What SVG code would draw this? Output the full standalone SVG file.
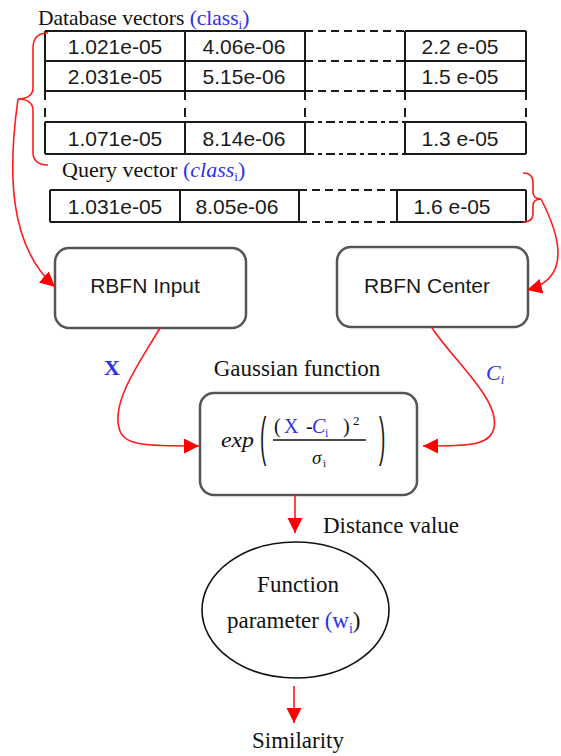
<svg xmlns="http://www.w3.org/2000/svg" width="561" height="756" viewBox="0 0 561 756">
  <defs>
    <style>
      .sans { font-family: "Liberation Sans", Arial, sans-serif; fill: #1a1a1a; }
      .serif { font-family: "Liberation Serif", "Times New Roman", serif; fill: #111; }
      .blue { fill: #3030e8; }
      .grid { stroke: #1a1a1a; stroke-width: 2; fill: none; }
      .dash { stroke: #1a1a1a; stroke-width: 2; stroke-dasharray: 8 5; fill: none; }
      .dashdot { stroke: #1a1a1a; stroke-width: 2; stroke-dasharray: 9 4 4 4; fill: none; }
      .box { fill: #fff; stroke: #555; stroke-width: 2.5; }
      .red { stroke: #ff1a1a; stroke-width: 1.6; fill: none; }
    </style>
    <marker id="arrow" markerUnits="userSpaceOnUse" markerWidth="16" markerHeight="16" refX="15" refY="7.5" orient="auto">
      <path d="M0,0 L15,7.5 L0,15 z" fill="#ff0000"/>
    </marker>
  </defs>
  <rect width="561" height="756" fill="#fff"/>

  <!-- database vectors table -->
  <g id="database-vectors">
    <text class="serif" x="38" y="25" font-size="21.5">Database vectors <tspan class="blue">(class<tspan font-size="13" dy="4">i</tspan><tspan dy="-4">)</tspan></tspan></text>
    <path class="grid" d="M45,31 H305 M405,31 H526 M45,61 H305 M405,61 H526 M45,91 H305 M405,91 H526 M45,122 H305 M405,122 H526 M45,154 H305 M405,154 H526"/>
    <path class="dash" d="M305,31 H405 M305,61 H405 M305,91 H405"/>
    <path class="dashdot" d="M305,122 H405 M305,154 H405"/>
    <path class="grid" d="M45,31 V100 M185,31 V100 M305,31 V100 M405,31 V100 M526,31 V100 M45,108 V117 M185,108 V117 M305,108 V117 M405,108 V117 M526,108 V117 M45,122 V154 M185,122 V154 M305,122 V154 M405,122 V154 M526,122 V154"/>
    <g class="sans" font-size="21" text-anchor="middle">
      <text x="115" y="54">1.021e-05</text>
      <text x="244" y="54">4.06e-06</text>
      <text x="460" y="54">2.2 e-05</text>
      <text x="115" y="84">2.031e-05</text>
      <text x="244" y="84">5.15e-06</text>
      <text x="460" y="84">1.5 e-05</text>
      <text x="115" y="146">1.071e-05</text>
      <text x="244" y="146">8.14e-06</text>
      <text x="460" y="146">1.3 e-05</text>
    </g>
  </g>

  <!-- query vector table -->
  <g id="query-vector">
    <text class="serif" x="62" y="177" font-size="22">Query vector <tspan class="blue">(<tspan font-style="italic">class</tspan><tspan font-size="13" dy="4">i</tspan><tspan dy="-4">)</tspan></tspan></text>
    <path class="grid" d="M50,190 H299 M397,190 H526 M50,222 H299 M397,222 H526 M50,190 V222 M180,190 V222 M299,190 V222 M397,190 V222 M526,190 V222"/>
    <path class="dash" d="M299,190 H397 M299,222 H397"/>
    <g class="sans" font-size="21" text-anchor="middle">
      <text x="115" y="214">1.031e-05</text>
      <text x="237" y="214">8.05e-06</text>
      <text x="452" y="214">1.6 e-05</text>
    </g>
  </g>

  <!-- RBFN input node -->
  <g id="rbfn-input">
    <rect class="box" x="55" y="248" width="191" height="80" rx="14"/>
    <text class="sans" font-size="21" x="145" y="293" text-anchor="middle">RBFN Input</text>
  </g>

  <!-- RBFN center node -->
  <g id="rbfn-center">
    <rect class="box" x="337" y="247" width="191" height="80" rx="14"/>
    <text class="sans" font-size="21" x="427" y="293" text-anchor="middle">RBFN Center</text>
  </g>

  <!-- Gaussian kernel node -->
  <g id="gaussian">
    <text class="serif" font-size="23" x="297" y="376" text-anchor="middle">Gaussian function</text>
    <rect class="box" x="200" y="393" width="217" height="102" rx="14"/>
    <text class="serif" x="221" y="447" font-size="21" font-style="italic" textLength="33" lengthAdjust="spacingAndGlyphs">exp</text>
    <text class="sans" transform="translate(260,455) scale(0.5,1.4)" font-size="38" fill="#222">(</text>
    <text class="sans" transform="translate(379,455) scale(0.5,1.4)" font-size="38" fill="#222">)</text>
    <text class="serif" y="433" font-size="20">
      <tspan x="274">(</tspan><tspan x="284" class="blue">X</tspan><tspan x="306">-</tspan><tspan x="312" class="blue" font-style="italic">C</tspan><tspan x="325" dy="4" font-size="12" class="blue">i</tspan><tspan x="343" dy="-4">)</tspan><tspan x="353" dy="-8" font-size="13">2</tspan>
    </text>
    <line x1="273" y1="440" x2="366" y2="440" stroke="#111" stroke-width="1.6"/>
    <text class="serif" y="464" font-size="19" font-style="italic"><tspan x="312">σ</tspan><tspan x="323" dy="3" font-size="11" font-style="normal">i</tspan></text>
  </g>

  <!-- weight node -->
  <g id="function-parameter">
    <ellipse cx="295.5" cy="610" rx="93.5" ry="68" fill="#fff" stroke="#111" stroke-width="1.6"/>
    <text class="serif" font-size="23" x="298" y="592" text-anchor="middle">Function</text>
    <text class="serif" font-size="23" x="227" y="628">parameter <tspan class="blue">(w<tspan font-size="14" dy="5">i</tspan></tspan><tspan dy="-5">)</tspan></text>
  </g>

  <!-- output labels -->
  <g id="labels">
    <text class="serif" font-size="23" x="323" y="533">Distance value</text>
    <text class="serif" font-size="23" x="252" y="748">Similarity</text>
    <text class="serif blue" x="104" y="375" font-weight="bold" font-size="22">X</text>
    <text class="serif blue" x="486" y="380" font-style="italic" font-size="22">C<tspan font-size="13" dy="4">i</tspan></text>
  </g>

  <!-- connectors -->
  <g id="connectors">
    <path class="red" d="M48,33 C38,33 33,38 33,48 L33,88 C33,95 27,99 18,99 C27,99 33,103 33,110 L33,152 C33,160 38,165 48,165"/>
    <path class="red" d="M523,173 C530,173 533,176 533,182 L533,192 C533,197 536,199 541,199 C536,199 533,201 533,206 L533,214 C533,219 530,222 523,222"/>
    <path class="red" d="M18,99 C8,170 8,245 55,287" marker-end="url(#arrow)"/>
    <path class="red" d="M541,199 C558,232 574,278 527,290" marker-end="url(#arrow)"/>
    <path class="red" d="M160,328 C140,362 112,400 119,428 C123,446 145,446 199,446" marker-end="url(#arrow)"/>
    <path class="red" d="M432,328 C455,362 500,400 494,428 C490,446 468,446 423,446" marker-end="url(#arrow)"/>
    <path class="red" d="M295,495 V533" marker-end="url(#arrow)"/>
    <path class="red" d="M294,686 V723" marker-end="url(#arrow)"/>
  </g>
</svg>
